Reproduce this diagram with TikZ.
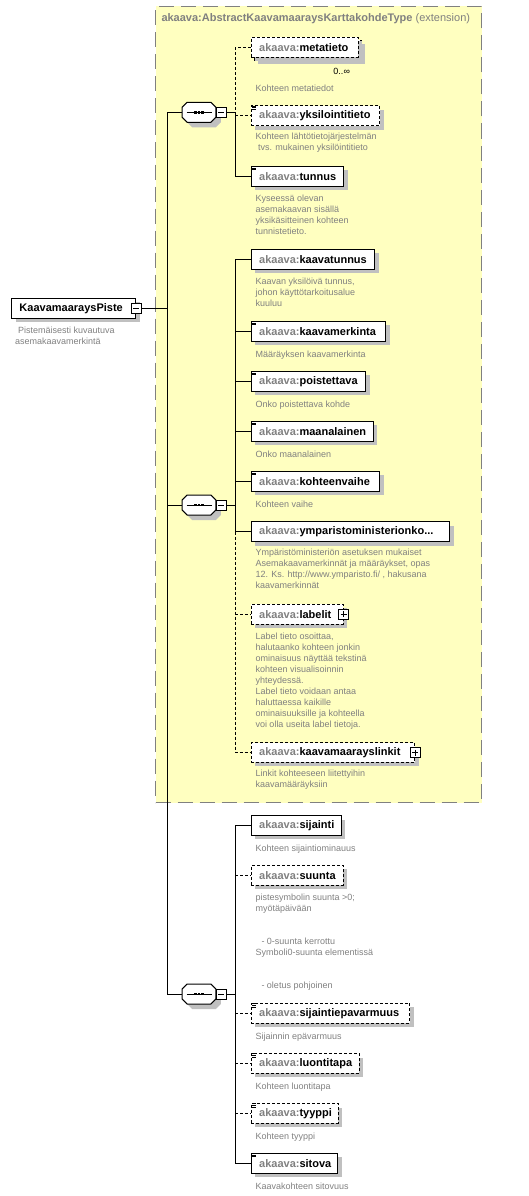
\documentclass[tikz,border=0pt]{standalone}
\usepackage{fontspec}
\setmainfont{Liberation Sans}
\usetikzlibrary{positioning, shadows}

\definecolor{extfill}{RGB}{255,255,192}
\definecolor{extline}{RGB}{128,128,128}
\definecolor{shgray}{RGB}{192,192,192}
\definecolor{nsgray}{RGB}{128,128,128}
\definecolor{descgray}{RGB}{128,128,128}

\newcommand\ns[1]{{\color{nsgray}akaava:}#1}
\newcommand\elemfont{\fontsize{11}{13}\selectfont\bfseries}
\newcommand\descfont{\fontsize{9}{11}\selectfont}
% three little bars in the upper left corner = simple content
\newcommand\leafmark[1]{%
  \foreach \k in {0,1,2}{\draw[line width=0.8pt, shift={(#1.north west)}] (1.2,0.6+1.7*\k) -- ++(4.5,0);}}

\begin{document}
\begin{tikzpicture}[
  x=1pt, y=-1pt,
  line width=1pt,
  elem/.style={draw, fill=white, anchor=west, minimum height=19.7pt, inner xsep=8pt, inner ysep=0pt,
    align=left, text width=#1, font=\elemfont,
    drop shadow={shadow xshift=4pt, shadow yshift=-4pt, opacity=1, fill=shgray}},
  opt/.style={dash pattern=on 3pt off 2pt},
  comp/.style={minimum width=33.7pt, minimum height=20pt, inner sep=0pt, outer sep=0pt},
  octpath/.style n args={2}{insert path={
    ([shift={(5+#2,#2)}]#1.north west) -- ([shift={(-5+#2,#2)}]#1.north east) --
    ([shift={(#2,5+#2)}]#1.north east) -- ([shift={(#2,-5+#2)}]#1.south east) --
    ([shift={(-5+#2,#2)}]#1.south east) -- ([shift={(5+#2,#2)}]#1.south west) --
    ([shift={(#2,-5+#2)}]#1.south west) -- ([shift={(#2,5+#2)}]#1.north west) -- cycle}},
  pmbox/.style={draw, fill=white, minimum size=10pt, inner sep=0pt},
  minus/.style={pmbox, path picture={
    \draw ([xshift=2pt]path picture bounding box.west) -- ([xshift=-2pt]path picture bounding box.east);}},
  plus/.style={pmbox, path picture={
    \draw ([xshift=2pt]path picture bounding box.west) -- ([xshift=-2pt]path picture bounding box.east);
    \draw ([yshift=-2pt]path picture bounding box.north) -- ([yshift=2pt]path picture bounding box.south);}},
  desc/.style={anchor=north west, align=left, inner sep=0pt, text=descgray, font=\descfont,
    execute at begin node=\strut},
  extbox/.style={draw=extline, fill=extfill, dash pattern=on 15pt off 7pt, anchor=north west, inner sep=0pt},
]

\useasboundingbox (0,0) rectangle (529,1196);

% ---- extension base type (yellow box) ----
\node[extbox, minimum width=326pt, minimum height=796pt] (ext) at (155,6) {};
\node[anchor=west, inner sep=0pt, text=nsgray, font=\fontsize{11}{13}\selectfont] (exttitle) at (161,19)
  {\textbf{akaava:AbstractKaavamaaraysKarttakohdeType} (extension)};

% ---- root element ----
\node[elem=108pt] (root) at (11,308.3) {KaavamaaraysPiste};
\node[minus] (rootpm) at (root.east) {};
\node[desc] (rootdesc) at (14.7,326.3) {\hspace{3pt}Pistemäisesti kuvautuva\\asemakaavamerkintä};

% ---- sequence compositors ----
\node[comp] (seq1) at (199,112.3) {};
\node[comp] (seq2) at (199,505) {};
\node[comp] (seq3) at (199,994) {};
\foreach \s in {seq1,seq2,seq3}{
  \fill[shgray, octpath={\s}{5}];
  \draw[fill=white, octpath={\s}{0}];
  \draw ([xshift=-12.5pt]\s.center) -- ([xshift=12.5pt]\s.center);
  \foreach \d in {-3.5,0,3.5}
    \fill ([xshift=\d pt]\s.center) +(-1.3,-1.3) rectangle +(1.3,1.3);
}
\node[minus, right=0pt of seq1] (pm1) {};
\node[minus, right=0pt of seq2] (pm2) {};
\node[minus, right=0pt of seq3] (pm3) {};

% ============================================================
% FIRST SEQUENCE (inside the base type)
% ============================================================
\node[elem=91pt, opt] (metaback) at (253.7,50.3) {};
\node[elem=91pt, opt] (metatieto) at (250.7,47.3) {\ns{metatieto}};
\node[font=\descfont, inner sep=0pt] (metamult) at (341.7,71.7) {0..∞};
\node[desc] (metadesc) at (255,83.3) {Kohteen metatiedot};

\node[elem=112.6pt, opt] (yksilointitieto) at (250.7,115.8) {\ns{yksilointitieto}};
\node[desc] (yksidesc) at (255,132.9) {Kohteen lähtötietojärjestelmän\\\hspace{2.5pt}tvs. mukainen yksilöintitieto};

\node[elem=76.6pt] (tunnus) at (250.7,176.2) {\ns{tunnus}};
\node[desc] (tunnusdesc) at (255,194.6) {Kyseessä olevan\\asemakaavan sisällä\\yksikäsitteinen kohteen\\tunnistetieto.};

% ============================================================
% SECOND SEQUENCE
% ============================================================
\node[elem=107.3pt] (kaavatunnus) at (250.7,259.3) {\ns{kaavatunnus}};
\node[desc] (kaavatunnusdesc) at (255,277.3) {Kaavan yksilöivä tunnus,\\johon käyttötarkoitusalue\\kuuluu};

\node[elem=118.3pt] (kaavamerkinta) at (250.7,331.2) {\ns{kaavamerkinta}};
\node[desc] (kaavamerkintadesc) at (255,348.9) {Määräyksen kaavamerkinta};

\node[elem=98.3pt] (poistettava) at (250.7,381.2) {\ns{poistettava}};
\node[desc] (poistettavadesc) at (255,398.9) {Onko poistettava kohde};

\node[elem=106pt] (maanalainen) at (250.7,431.2) {\ns{maanalainen}};
\node[desc] (maanalainendesc) at (255,448.9) {Onko maanalainen};

\node[elem=112.3pt] (kohteenvaihe) at (250.7,481.2) {\ns{kohteenvaihe}};
\node[desc] (kohteenvaihedesc) at (255,498.9) {Kohteen vaihe};

\node[elem=182.3pt] (ymparisto) at (250.7,531.7) {\ns{ymparistoministerionko...}};
\node[desc] (ymparistodesc) at (255,548.9) {Ympäristöministeriön asetuksen mukaiset\\Asemakaavamerkinnät ja määräykset, opas\\12. Ks. http://www.ymparisto.fi/ , hakusana\\kaavamerkinnät};

\node[elem=76pt, opt] (labelit) at (250.7,614.3) {\ns{labelit}};
\node[plus] (labelitpm) at (labelit.east) {};
\node[desc] (labelitdesc) at (255,632.3) {Label tieto osoittaa,\\halutaanko kohteen jonkin\\ominaisuus näyttää tekstinä\\kohteen visualisoinnin\\yhteydessä.\\Label tieto voidaan antaa\\haluttaessa kaikille\\ominaisuuksille ja kohteella\\voi olla useita label tietoja.};

\node[elem=147.6pt, opt] (linkit) at (250.7,752.5) {\ns{kaavamaarayslinkit}};
\node[plus] (linkitpm) at (linkit.east) {};
\node[desc] (linkitdesc) at (255,769.9) {Linkit kohteeseen liitettyihin\\kaavamääräyksiin};

% ============================================================
% THIRD SEQUENCE
% ============================================================
\node[elem=74pt] (sijainti) at (250.7,825.5) {\ns{sijainti}};
\node[desc] (sijaintidesc) at (255,843.3) {Kohteen sijaintiominauus};

\node[elem=76pt, opt] (suunta) at (250.7,875.3) {\ns{suunta}};
\node[desc] (suuntadesc) at (255,893.3) {pistesymbolin suunta >0;\\myötäpäivään\\[22pt]\hspace{6pt}- 0-suunta kerrottu\\Symboli0-suunta elementissä\\[22pt]\hspace{6pt}- oletus pohjoinen};

\node[elem=142.3pt, opt] (sijaintiepavarmuus) at (250.7,1013.3) {\ns{sijaintiepavarmuus}};
\node[desc] (epavarmuusdesc) at (255,1031.3) {Sijainnin epävarmuus};

\node[elem=92pt, opt] (luontitapa) at (250.7,1063.5) {\ns{luontitapa}};
\node[desc] (luontitapadesc) at (255,1081.6) {Kohteen luontitapa};

\node[elem=71pt, opt] (tyyppi) at (250.7,1113.5) {\ns{tyyppi}};
\node[desc] (tyyppidesc) at (255,1131.3) {Kohteen tyyppi};

\node[elem=70.6pt] (sitova) at (250.7,1163.2) {\ns{sitova}};
\node[desc] (sitovadesc) at (255,1181.3) {Kaavakohteen sitovuus};

% simple-content marks
\foreach \n in {yksilointitieto, tunnus, kaavamerkinta, poistettava, maanalainen, kohteenvaihe,
  sijaintiepavarmuus, luontitapa, tyyppi, sitova}
  \leafmark{\n};

% ============================================================
% CONNECTORS
% ============================================================
\coordinate (spine) at (167.3,0);
\coordinate (bus) at (235.3,0);

\draw (rootpm.east) -- (rootpm.east -| spine);
\draw (seq1.west) -- (seq1.west -| spine) -- (seq3.west -| spine) -- (seq3.west);
\draw (seq2.west -| spine) -- (seq2.west);

% first sequence
\draw (pm1.east) -- (pm1.east -| bus) -- (tunnus.west -| bus) -- (tunnus.west);
\draw[opt] (metatieto.west) -- (metatieto.west -| bus) -- (pm1.east -| bus);
\draw[opt] (yksilointitieto.west -| bus) -- (yksilointitieto.west);

% second sequence
\draw (pm2.east) -- (pm2.east -| bus);
\draw (kaavatunnus.west) -- (kaavatunnus.west -| bus) -- (ymparisto.west -| bus) -- (ymparisto.west);
\foreach \n in {kaavamerkinta, poistettava, maanalainen, kohteenvaihe}
  \draw (\n.west -| bus) -- (\n.west);
\draw[opt] (ymparisto.west -| bus) -- (linkit.west -| bus) -- (linkit.west);
\draw[opt] (labelit.west -| bus) -- (labelit.west);

% third sequence
\draw (pm3.east) -- (pm3.east -| bus);
\draw (sijainti.west) -- (sijainti.west -| bus) -- (sitova.west -| bus) -- (sitova.west);
\foreach \n in {suunta, sijaintiepavarmuus, luontitapa, tyyppi}
  \draw[opt] (\n.west -| bus) -- (\n.west);

\end{tikzpicture}
\end{document}
